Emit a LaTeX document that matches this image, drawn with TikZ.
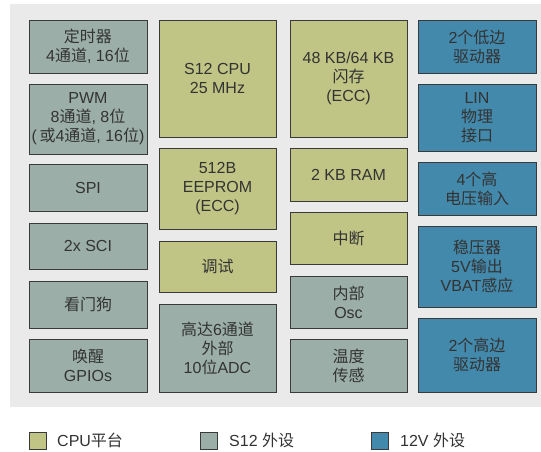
\documentclass[tikz,border=0pt]{standalone}
\usepackage{fontspec}
\setmainfont{Liberation Sans}
\newfontfamily\cjkfont{Noto Sans CJK SC}
\newcommand{\zh}[1]{{\cjkfont #1}}
\definecolor{bgpanel}{HTML}{EAEAEA}
\definecolor{cpucol}{HTML}{C0C585}
\definecolor{s12col}{HTML}{9BAFA8}
\definecolor{vcol}{HTML}{4389AB}
\definecolor{edgecol}{HTML}{3A3A3A}
\definecolor{txtcol}{HTML}{333333}
\tikzset{
  blockbox/.style={draw=edgecol, line width=1pt, inner sep=0pt, align=center,
    text=txtcol, font=\fontsize{16}{19}\selectfont},
  cpubox/.style={blockbox, fill=cpucol},
  s12box/.style={blockbox, fill=s12col},
  vbox/.style={blockbox, fill=vcol},
  legbox/.style={draw=edgecol, line width=1pt, inner sep=0pt, minimum width=17pt, minimum height=17pt},
  legtext/.style={text=txtcol, inner sep=0pt, anchor=west, font=\fontsize{16}{19}\selectfont}
}
\newcommand{\blk}[7]{%
  \node[#6, minimum width={(#4-#2)*1pt}, minimum height={(#5-#3)*1pt}] (#1) at ({(#2+#4)/2},{(#3+#5)/2}) {#7};}
\begin{document}
\begin{tikzpicture}[x=1pt,y=-1pt]
\useasboundingbox (0,0) rectangle (541,451);
\fill[bgpanel] (10,4) rectangle (541,407);
% column 1
\blk{timer}{29}{20}{147}{73}{s12box}{\zh{定时器}\\4\zh{通道}, 16\zh{位}}
\blk{pwm}{29}{84}{147}{154}{s12box}{PWM\\8\zh{通道}, 8\zh{位}\\(\,\zh{或}4\zh{通道}, 16\zh{位})}
\blk{spi}{29}{164}{147}{211}{s12box}{SPI}
\blk{sci}{29}{223}{147}{269}{s12box}{2x SCI}
\blk{wdog}{29}{281}{147}{328}{s12box}{\zh{看门狗}}
\blk{wake}{29}{339}{147}{392}{s12box}{\zh{唤醒}\\GPIOs}
% column 2
\blk{cpu}{159}{20}{276}{137}{cpubox}{S12 CPU\\25 MHz}
\blk{eeprom}{159}{148}{276}{229}{cpubox}{512B\\EEPROM\\(ECC)}
\blk{debug}{159}{241}{276}{292}{cpubox}{\zh{调试}}
\blk{adc}{159}{304}{276}{392}{s12box}{\zh{高达}6\zh{通道}\\\zh{外部}\\10\zh{位}ADC}
% column 3
\blk{flash}{290}{20}{407}{137}{cpubox}{48 KB/64 KB\\\zh{闪存}\\(ECC)}
\blk{ram}{290}{148}{407}{201}{cpubox}{2 KB RAM}
\blk{irq}{290}{212}{407}{264}{cpubox}{\zh{中断}}
\blk{osc}{290}{276}{407}{328}{s12box}{\zh{内部}\\Osc}
\blk{temp}{290}{339}{407}{392}{s12box}{\zh{温度}\\\zh{传感}}
% column 4
\blk{lsd}{418}{20}{536}{73}{vbox}{2\zh{个低边}\\\zh{驱动器}}
\blk{lin}{418}{84}{536}{151}{vbox}{LIN\\\zh{物理}\\\zh{接口}}
\blk{hvin}{418}{162}{536}{215}{vbox}{4\zh{个高}\\\zh{电压输入}}
\blk{vreg}{418}{226}{536}{307}{vbox}{\zh{稳压器}\\5V\zh{输出}\\VBAT\zh{感应}}
\blk{hsd}{418}{318}{536}{392}{vbox}{2\zh{个高边}\\\zh{驱动器}}
% legend
\node[legbox, fill=cpucol] (l1) at (37.5,440.5) {};
\node[legtext] (t1) at (57,440.5) {CPU\zh{平台}};
\node[legbox, fill=s12col] (l2) at (208.5,440.5) {};
\node[legtext] (t2) at (229,440.5) {S12 \zh{外设}};
\node[legbox, fill=vcol] (l3) at (379.5,440.5) {};
\node[legtext] (t3) at (400,440.5) {12V \zh{外设}};
\end{tikzpicture}
\end{document}
